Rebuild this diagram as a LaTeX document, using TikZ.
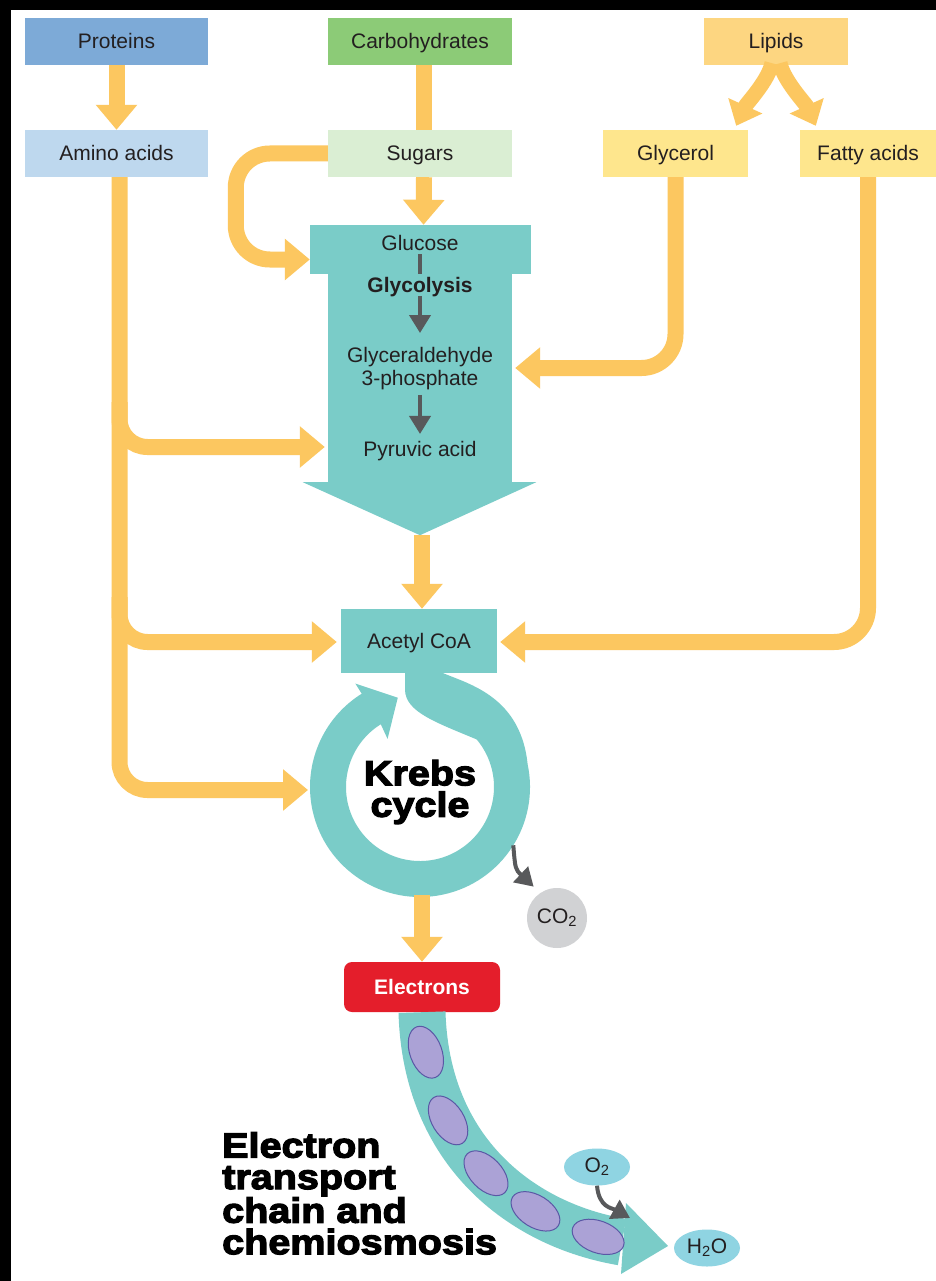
\documentclass[tikz,border=0pt]{standalone}
\usepackage{fontspec}
\setmainfont{Liberation Sans}
\newfontface\heavyfont{Liberation Sans Bold}[FakeBold=3.5,FakeStretch=1.13]
\usetikzlibrary{arrows.meta,shapes.geometric,calc}

\definecolor{flowc}{RGB}{252,199,96}
\definecolor{tealc}{RGB}{122,204,200}
\definecolor{protc}{RGB}{125,170,215}
\definecolor{carbc}{RGB}{140,203,119}
\definecolor{lipc}{RGB}{253,214,129}
\definecolor{aminoc}{RGB}{190,216,238}
\definecolor{sugarc}{RGB}{218,238,211}
\definecolor{glyc}{RGB}{254,230,141}
\definecolor{redc}{RGB}{228,30,43}
\definecolor{greyc}{RGB}{209,210,212}
\definecolor{skyc}{RGB}{143,212,226}
\definecolor{purpc}{RGB}{171,162,214}
\definecolor{purpd}{RGB}{90,88,165}
\definecolor{darkc}{RGB}{88,89,91}
\definecolor{inkc}{RGB}{35,31,32}

\begin{document}
\begin{tikzpicture}[x=1pt,y=-1pt,
  font=\fontsize{21}{23}\selectfont, text=inkc,
  lbl/.style={text height=15, text depth=0},
  foodbox/.style={rectangle, inner sep=0, minimum height=47, lbl},
  flow/.style={draw=flowc, line width=16, -{Triangle[length=25pt,width=40pt]}},
  flowline/.style={draw=flowc, line width=16},
  splitflow/.style={draw=flowc, line width=15, -{Triangle[length=22pt,width=36pt]}},
  darkarrow/.style={draw=darkc, line width=4, -{Triangle[length=18pt,width=21pt]}},
  pill/.style={ellipse, fill=skyc, inner sep=0, minimum width=66, minimum height=37},
  carrier/.style={ellipse, fill=purpc, draw=purpd, line width=1, minimum width=54, minimum height=32, inner sep=0},
  heavy/.style={font=\heavyfont\fontsize{35}{31.5}\selectfont, text=black, inner sep=0}
]
% frame and page
\useasboundingbox (0,0) rectangle (936,1281);
\fill[black] (0,0) rectangle (936,1281);
\fill[white] (11,10) rectangle (936,1281);

% nutrient sources
\node[foodbox, fill=protc, minimum width=183] (proteins) at (116.5,41.5) {Proteins};
\node[foodbox, fill=carbc, minimum width=184] (carbs) at (420,41.5) {Carbohydrates};
\node[foodbox, fill=lipc, minimum width=144] (lipids) at (776,41.5) {Lipids};
\node[foodbox, fill=aminoc, minimum width=183] (amino) at (116.5,153.5) {Amino acids};
\node[foodbox, fill=sugarc, minimum width=184] (sugars) at (420,153.5) {Sugars};
\node[foodbox, fill=glyc, minimum width=145] (glycerol) at (675.5,153.5) {Glycerol};
\node[foodbox, fill=glyc, minimum width=136] (fatty) at (868,153.5) {Fatty acids};

% glycolysis block
\node[rectangle, fill=tealc, inner sep=0, minimum width=184, minimum height=216] (glybody) at (420,378) {};
\fill[tealc] ($(glybody.south west)+(-25,-4)$) -- ($(glybody.south east)+(24,-4)$)
  -- ($(glybody.south)+(0,49)$) -- cycle;
\node[rectangle, fill=tealc, inner sep=0, minimum width=221, minimum height=49] (glybar) at (420.5,249.5) {};
\node[lbl] (glucose) at (420,243) {Glucose};
\node[lbl, font=\bfseries\fontsize{21}{23}\selectfont] (glycolysis) at (420,285) {Glycolysis};
\node[align=center, inner sep=0] (g3p) at (420,368.5) {Glyceraldehyde\\3-phosphate};
\node[lbl] (pyruvic) at (420,449) {Pyruvic acid};
\draw[darkc, line width=4] (glucose.south) -- (glycolysis.north);
\draw[darkarrow, shorten >=14pt] (glycolysis.south) -- (g3p.north);
\draw[darkarrow, shorten <=5pt, shorten >=4pt] (g3p.south) -- (pyruvic.north);

% acetyl CoA and the Krebs cycle ring
\node[rectangle, fill=tealc, inner sep=0, minimum width=156, minimum height=64, lbl] (acetyl) at (419,641) {Acetyl CoA};
\coordinate (kc) at (420,787);
\fill[tealc] ($(acetyl.south)+(18,-3)$) .. controls (458,682) and (520,690) .. ($(kc)+(-12:110)$)
  arc[start angle=-12, end angle=238, radius=110]
  -- ($(kc)+(238:122)$) -- ($(kc)+(256:92)$) -- ($(kc)+(236:58)$) -- ($(kc)+(238:74)$)
  arc[start angle=238, end angle=-40, radius=74]
  .. controls (435,722) and (406,712) .. ($(acetyl.south)+(-14,17)$)
  -- ($(acetyl.south)+(-14,-3)$) -- cycle;
\node[heavy, align=center] (krebs) at (420,792) {Krebs\\cycle};

\coordinate (ringW) at ($(kc)+(-112,3)$);
\coordinate (ringS) at ($(kc)+(2,108)$);
\coordinate (ringSE) at ($(kc)+(32:110)$);

% CO2 release
\node[circle, fill=greyc, minimum size=60, inner sep=0] (co2) at (557,918) {CO\textsubscript{2}};
\draw[darkarrow] (ringSE) .. controls +(2,24) .. ($(co2.north west)+(-2,-10)$);

% electrons and the transport chain
\node[rectangle, rounded corners=8, fill=redc, minimum width=156, minimum height=50, inner sep=0,
  text=white, lbl, font=\bfseries\fontsize{21}{23}\selectfont] (electrons) at (422,987) {Electrons};
\coordinate (etcE) at (622,1242);
\draw[tealc, line width=47] (electrons.south) .. controls +(4,140) and +(-100,-17) .. (etcE);
\fill[tealc] ($(etcE)+(4,-39)$) -- ($(etcE)+(46,4)$) -- ($(etcE)+(-1,32)$) -- cycle;
\path (electrons.south) .. controls +(4,140) and +(-100,-17) .. (etcE)
  node[carrier, pos=0.1, rotate=-70] (c1) {}
  node[carrier, pos=0.3, rotate=-58] (c2) {}
  node[carrier, pos=0.5, rotate=-46] (c3) {}
  node[carrier, pos=0.7, rotate=-32] (c4) {}
  node[carrier, pos=0.92, rotate=-20] (c5) {};
\node[pill] (o2) at (597,1167) {O\textsubscript{2}};
\node[pill] (h2o) at (707,1248) {H\textsubscript{2}O};
\draw[darkarrow] (o2.south) .. controls +(2,22) and (612,1208) .. (630,1218);
\node[heavy, anchor=north west, align=left] (etc) at (222,1132)
  {Electron\\transport\\chain and\\chemiosmosis};

% orange flow connectors
\draw[flow] (proteins) -- (amino);
\draw[flowline] ([xshift=4]carbs.south) -- ([xshift=4]sugars.north);
\draw[flow] ([xshift=4]sugars.south) -- ([xshift=3]glybar.north);
\coordinate (sgIn) at ($(glybar.west)+(0,10)$);
\draw[flow, rounded corners=34] (sugars.west) -- ++(-92,0) |- (sgIn);

\draw[splitflow] ($(lipids.south)+(-4,-2)$) .. controls +(-4,18) and +(10,-22) .. ($(glycerol.north east)+(-12,-4)$);
\draw[splitflow] ($(lipids.south)+(4,-2)$) .. controls +(4,18) and +(-10,-22) .. ($(fatty.north west)+(16,-4)$);

\coordinate (g3pIn) at ($(glybody.east)+(3,-10)$);
\draw[flow, rounded corners=34] (glycerol.south) |- (g3pIn);
\coordinate (acFat) at ($(acetyl.east)+(3,1)$);
\draw[flow, rounded corners=34] (fatty.south) |- (acFat);

\coordinate (trunkTop) at ([xshift=3]amino.south);
\draw[flow, rounded corners=28] (trunkTop) -- (trunkTop |- ringW) -- (ringW);
\coordinate (j1) at ($(trunkTop)+(0,225)$);
\coordinate (pyrIn) at ($(glybody.west)+(-3,69)$);
\draw[flow, rounded corners=28] (j1) -- (j1 |- pyrIn) -- (pyrIn);
\coordinate (j2) at ($(trunkTop)+(0,420)$);
\coordinate (acIn) at ($(acetyl.west)+(-4,1)$);
\draw[flow, rounded corners=28] (j2) -- (j2 |- acIn) -- (acIn);

\coordinate (glytip) at ($(glybody.south)+(2,49)$);
\draw[flow] (glytip) -- (glytip |- acetyl.north);
\draw[flow] (ringS) -- (ringS |- electrons.north);
\end{tikzpicture}
\end{document}
